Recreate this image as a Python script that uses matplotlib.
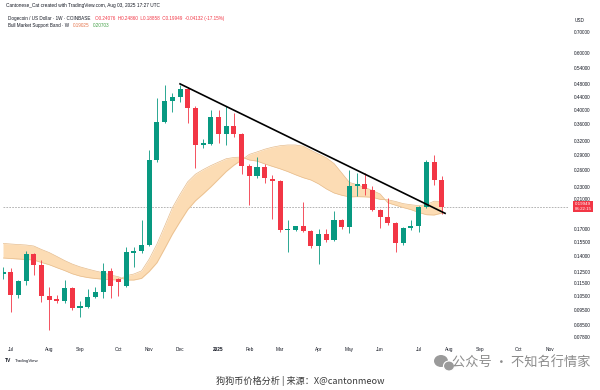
import datetime as dt
import numpy as np
import matplotlib
matplotlib.use("Agg")
import matplotlib.pyplot as plt
import matplotlib.dates as mdates
from matplotlib.ticker import FixedLocator, NullLocator, NullFormatter
from matplotlib.patches import Ellipse

# 周线数据：Coinbase DOGE/USD，从 2024-06-24 这一周开始
start_week = dt.date(2024, 6, 24)

opens = [0.1230, 0.1248, 0.1056, 0.1168, 0.1418, 0.1310, 0.1048, 0.1025, 0.1011, 0.1111,
         0.0962, 0.0969, 0.1041, 0.1079, 0.1255, 0.1184, 0.1126, 0.1428, 0.1449, 0.1515,
         0.2788, 0.3665, 0.4263, 0.4387, 0.4646, 0.4053, 0.3106, 0.3129, 0.3800, 0.3360,
         0.3560, 0.3360, 0.2670, 0.2485, 0.2651, 0.2433, 0.2397, 0.1683, 0.1683, 0.1734,
         0.1673, 0.1502, 0.1637, 0.1568, 0.1810, 0.1724, 0.2318, 0.2351, 0.2245, 0.1946,
         0.1854, 0.1769, 0.1531, 0.1706, 0.1734, 0.1992, 0.2743, 0.24076]
highs = [0.1290, 0.1280, 0.1176, 0.1449, 0.1428, 0.1358, 0.1119, 0.1056, 0.1176, 0.1119,
         0.1010, 0.1102, 0.1119, 0.1326, 0.1280, 0.1192, 0.1491, 0.1491, 0.1811, 0.2997,
         0.4356, 0.4782, 0.4513, 0.4782, 0.4700, 0.4100, 0.3250, 0.3995, 0.3995, 0.4100,
         0.3910, 0.3380, 0.2700, 0.2850, 0.2700, 0.2500, 0.2420, 0.1810, 0.1740, 0.2061,
         0.1690, 0.1697, 0.1697, 0.1933, 0.1820, 0.2595, 0.2534, 0.2534, 0.2320, 0.1960,
         0.2121, 0.1790, 0.1720, 0.1810, 0.2000, 0.2788, 0.2890, 0.24860]
lows = [0.1185, 0.0935, 0.1033, 0.1135, 0.1219, 0.1004, 0.0820, 0.0998, 0.0998, 0.0950,
        0.0901, 0.0962, 0.1033, 0.1033, 0.1033, 0.1048, 0.1119, 0.1291, 0.1428, 0.1500,
        0.2750, 0.3639, 0.3940, 0.4232, 0.3639, 0.2632, 0.3050, 0.3106, 0.3150, 0.3106,
        0.3300, 0.2520, 0.2017, 0.2450, 0.2363, 0.1824, 0.1660, 0.1439, 0.1670, 0.1660,
        0.1480, 0.1320, 0.1550, 0.1560, 0.1700, 0.1649, 0.2152, 0.2167, 0.1930, 0.1710,
        0.1750, 0.1441, 0.1510, 0.1690, 0.1661, 0.1970, 0.2330, 0.18858]
closes = [0.1248, 0.1056, 0.1168, 0.1418, 0.1310, 0.1048, 0.1018, 0.1011, 0.1111, 0.0962,
          0.0975, 0.1041, 0.1079, 0.1255, 0.1126, 0.1159, 0.1439, 0.1449, 0.1515, 0.2788,
          0.3665, 0.4263, 0.4387, 0.4646, 0.4053, 0.3106, 0.3151, 0.3800, 0.3360, 0.3560,
          0.3360, 0.2670, 0.2485, 0.2651, 0.2450, 0.2397, 0.1683, 0.1690, 0.1734, 0.1673,
          0.1502, 0.1637, 0.1568, 0.1810, 0.1724, 0.2318, 0.2340, 0.2258, 0.1946, 0.1854,
          0.1769, 0.1531, 0.1706, 0.1734, 0.1992, 0.2743, 0.2415, 0.19949]

# Bull Market Support Band（20W SMA / 21W EMA）
sma20 = [0.1530, 0.1524, 0.1518, 0.1513, 0.1502, 0.1465, 0.1433, 0.1393, 0.1353, 0.1319,
         0.1293, 0.1273, 0.1255, 0.1239, 0.1219, 0.1204, 0.1176, 0.1176, 0.1190, 0.1251,
         0.1332, 0.1473, 0.1634, 0.1789, 0.1951, 0.2079, 0.2183, 0.2298, 0.2428, 0.2567,
         0.2686, 0.2788, 0.2903, 0.2955, 0.3013, 0.3057, 0.3090, 0.3106, 0.3106, 0.3079,
         0.2990, 0.2909, 0.2833, 0.2719, 0.2541, 0.2373, 0.2334, 0.2288, 0.2239, 0.2183,
         0.2049, 0.2014, 0.1980, 0.1951, 0.1912, 0.1881, 0.1877, 0.19025]
ema21 = [0.1378, 0.1373, 0.1368, 0.1363, 0.1358, 0.1334, 0.1313, 0.1285, 0.1259, 0.1230,
         0.1210, 0.1197, 0.1189, 0.1183, 0.1179, 0.1176, 0.1213, 0.1228, 0.1256, 0.1368,
         0.1524, 0.1733, 0.1976, 0.2179, 0.2384, 0.2517, 0.2602, 0.2678, 0.2746, 0.2814,
         0.2839, 0.2849, 0.2788, 0.2766, 0.2711, 0.2663, 0.2617, 0.2565, 0.2507, 0.2455,
         0.2415, 0.2348, 0.2265, 0.2200, 0.2164, 0.2138, 0.2142, 0.2139, 0.2132, 0.2100,
         0.2095, 0.2069, 0.2037, 0.2021, 0.2008, 0.2023, 0.2073, 0.20703]

# 下降趋势线（两点）
trend_dates = [dt.date(2024, 12, 2), dt.date(2025, 7, 31)]
trend_prices = [0.482, 0.190]

last_close = 0.19949
price_ticks = [0.70, 0.60, 0.54, 0.48, 0.44, 0.40, 0.36, 0.32, 0.29, 0.26, 0.23, 0.21,
               0.17, 0.155, 0.14, 0.125, 0.115, 0.105, 0.095, 0.085, 0.078]

GREEN = '#089981'
RED = '#f23645'
TXT = '#131722'
FONT = 'Liberation Sans'
CJK = ['Noto Sans CJK SC', 'DejaVu Sans']

fig = plt.figure(figsize=(6, 3.9), dpi=100)
ax = fig.add_axes([3 / 600, 1 - 340 / 390, 565 / 600, 335 / 390])

dates = [start_week + dt.timedelta(weeks=i) for i in range(len(opens))]
x = mdates.date2num(dates)
o = np.array(opens); h = np.array(highs); l = np.array(lows); c = np.array(closes)
colors = np.where(c >= o, GREEN, RED)

# 支撑带
ax.fill_between(x, sma20, ema21, color='#fcdcb4', lw=0, zorder=1)
ax.plot(x, sma20, color='#e6bc8c', lw=0.5, zorder=2)
ax.plot(x, ema21, color='#e6bc8c', lw=0.5, zorder=2)

# K线
bottom = np.minimum(o, c)
top = np.maximum(np.maximum(o, c), bottom * 1.008)
ax.vlines(x, l, h, colors=colors, lw=0.6, zorder=3)
ax.bar(x, top - bottom, bottom=bottom, width=4.6, color=colors, lw=0, zorder=4)

# 趋势线 + 最新价虚线
ax.plot(mdates.date2num(trend_dates), trend_prices, color='black', lw=1.2, zorder=5)
ax.axhline(last_close, color='#a8a8a8', lw=0.6, ls=(0, (2, 1.5)), zorder=0)

ax.set_yscale('log')
ax.set_ylim(0.0764, 0.850)
ax.set_xlim(mdates.date2num(start_week), mdates.date2num(start_week) + 73.4 * 7)

ax.yaxis.tick_right()
ax.yaxis.set_major_locator(FixedLocator(price_ticks))
ax.yaxis.set_minor_locator(NullLocator())
ax.yaxis.set_minor_formatter(NullFormatter())
ax.set_yticklabels(['%.5f' % p for p in price_ticks])
ax.tick_params(axis='y', length=0, pad=4, labelsize=3.4, labelcolor=TXT)

# 月份刻度：每月第一根周K
tick_x, tick_lab = [], []
seen = set()
for i in range(1, 74):
    d = start_week + dt.timedelta(weeks=i)
    if (d.year, d.month) not in seen:
        seen.add((d.year, d.month))
        tick_x.append(mdates.date2num(d))
        tick_lab.append(str(d.year) if d.month == 1 else d.strftime('%b'))
ax.set_xticks(tick_x)
ax.set_xticklabels(tick_lab)
ax.tick_params(axis='x', length=0, pad=5, labelsize=3.4, labelcolor=TXT)
for t in ax.get_xticklabels() + ax.get_yticklabels():
    t.set_fontfamily(FONT)
    if t.get_text() == '2025':
        t.set_fontweight('bold')
for s in ax.spines.values():
    s.set_visible(False)

# 右侧最新价标签
ax.annotate('0.19949\n06:22:15', xy=(1.027, last_close), xycoords=('axes fraction', 'data'),
            ha='center', va='center', fontsize=3.2, color='white', family=FONT,
            linespacing=1.2,
            bbox=dict(boxstyle='square,pad=0.35', fc=RED, ec='none'))
fig.text(580 / 600, 1 - 20 / 390, 'USD', fontsize=3.4, color=TXT, family=FONT,
         ha='center', va='center')

# 左上角图例
fig.text(6 / 600, 1 - 6 / 390, 'Cantonese_Cat created with TradingView.com, Aug 03, 2025 17:27 UTC',
         fontsize=3.4, color=TXT, family=FONT, va='center')
t1 = fig.text(8 / 600, 1 - 18.5 / 390, 'Dogecoin / US Dollar · 1W · COINBASE',
              fontsize=3.3, color=TXT, family=FONT, va='center')
ax.annotate('O0.24076  H0.24860  L0.18858  C0.19949  -0.04132 (-17.15%)', xy=(1, 0.5),
            xycoords=t1, xytext=(3, 0), textcoords='offset points', va='center',
            fontsize=3.3, color=RED, family=FONT)
t2 = fig.text(8 / 600, 1 - 25.5 / 390, 'Bull Market Support Band · W',
              fontsize=3.3, color=TXT, family=FONT, va='center')
t3 = ax.annotate('0.19025', xy=(1, 0.5), xycoords=t2, xytext=(3, 0),
                 textcoords='offset points', va='center', fontsize=3.3,
                 color='#e5734a', family=FONT)
ax.annotate('0.20703', xy=(1, 0.5), xycoords=t3, xytext=(2, 0),
            textcoords='offset points', va='center', fontsize=3.3,
            color='#43a047', family=FONT)

# 底部：TradingView 标识、水印、说明
fig.text(5 / 600, 1 - 361 / 390, 'TV', fontsize=3.6, color=TXT, family=FONT,
         fontweight='bold', va='center')
fig.text(15 / 600, 1 - 361 / 390, 'TradingView', fontsize=3.2, color=TXT, family=FONT,
         va='center')
fig.patches.append(Ellipse((441 / 600, 1 - 361 / 390), 14 / 600, 12 / 390,
                           transform=fig.transFigure, fc='#9a9a9a', ec='none'))
fig.patches.append(Ellipse((449 / 600, 1 - 366 / 390), 11 / 600, 10 / 390,
                           transform=fig.transFigure, fc='#9a9a9a', ec='white', lw=0.8))
fig.text(590 / 600, 1 - 363 / 390, '公众号 · 不知名行情家', fontsize=9.5, color='#8c8c8c',
         family=CJK, ha='right', va='center')
fig.text(300 / 600, 1 - 381 / 390, '狗狗币价格分析 | 来源：X@cantonmeow', fontsize=6.6,
         color='#3a3a3a', family=CJK, ha='center', va='center')

fig.savefig('out.png', dpi=100)
